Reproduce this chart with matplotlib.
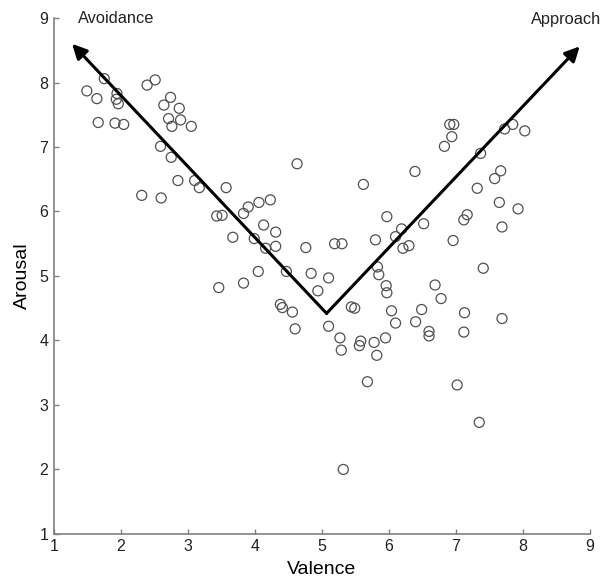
import matplotlib
matplotlib.use("Agg")
import matplotlib.pyplot as plt

plt.rcParams['font.family'] = ['Liberation Sans', 'DejaVu Sans']

valence = [1.49, 1.75, 1.64, 1.94, 1.93, 1.96, 1.66, 1.91, 2.04, 2.39, 2.51, 2.74, 2.64, 2.87,
           2.71, 2.89, 2.76, 3.05, 2.59, 2.75, 4.63, 2.85, 3.10, 3.17, 3.57, 2.31, 2.60, 3.43,
           3.51, 3.83, 3.90, 4.06, 4.23, 3.67, 3.99, 4.13, 4.31, 4.31, 4.16, 4.76, 4.05, 4.47,
           4.84, 3.46, 3.83, 5.10, 4.94, 4.38, 4.41, 4.56, 4.60, 5.10,
           6.91, 6.97, 6.94, 6.83, 7.85, 7.73, 8.03, 7.37, 6.39, 5.62, 7.67, 7.58, 7.32, 7.65,
           7.93, 5.97, 7.17, 7.12, 6.52, 6.19, 6.10, 5.80, 7.69, 6.96, 6.21, 6.30, 5.19, 5.30,
           5.83, 5.85, 7.41, 5.96, 5.97, 6.69, 6.78, 5.44, 5.49, 6.04, 6.49, 7.13, 7.69, 6.10,
           6.40, 6.60, 6.60, 7.12, 5.27, 5.29, 5.58, 5.56, 5.78, 5.95, 5.82, 5.68, 7.02, 7.35,
           5.32]
arousal = [7.87, 8.06, 7.75, 7.83, 7.74, 7.67, 7.38, 7.37, 7.35, 7.96, 8.04, 7.77, 7.65, 7.60,
           7.44, 7.42, 7.32, 7.32, 7.01, 6.84, 6.74, 6.48, 6.48, 6.37, 6.37, 6.25, 6.21, 5.93,
           5.94, 5.97, 6.07, 6.14, 6.18, 5.60, 5.58, 5.79, 5.68, 5.46, 5.43, 5.44, 5.07, 5.07,
           5.04, 4.82, 4.89, 4.97, 4.77, 4.56, 4.51, 4.44, 4.18, 4.22,
           7.35, 7.35, 7.16, 7.01, 7.35, 7.28, 7.25, 6.90, 6.62, 6.42, 6.63, 6.51, 6.36, 6.14,
           6.04, 5.92, 5.95, 5.87, 5.81, 5.73, 5.61, 5.56, 5.76, 5.55, 5.43, 5.47, 5.50, 5.50,
           5.14, 5.02, 5.12, 4.85, 4.74, 4.86, 4.65, 4.52, 4.50, 4.46, 4.48, 4.43, 4.34, 4.27,
           4.29, 4.14, 4.07, 4.13, 4.04, 3.85, 3.99, 3.92, 3.97, 4.04, 3.77, 3.36, 3.31, 2.73,
           2.00]

vertex = (5.07, 4.42)
avoid_tip = (1.27, 8.60)
approach_tip = (8.85, 8.56)
ticks = [1, 2, 3, 4, 5, 6, 7, 8, 9]

fig = plt.figure(figsize=(6.03, 5.81), dpi=100)
ax = fig.add_axes([0.0896, 0.081, 0.8884, 0.888])

ax.scatter(valence, arousal, s=52, facecolors='none', edgecolors='#505050', linewidths=0.9, zorder=2)

for tip in (avoid_tip, approach_tip):
    ax.annotate('', xy=tip, xytext=vertex,
                arrowprops=dict(arrowstyle='-|>', color='black', lw=2.2, mutation_scale=22,
                                shrinkA=0, shrinkB=0), zorder=3)

ax.text(1.36, 9.0, 'Avoidance', fontsize=11.8, ha='left', va='center', color='#222222')
ax.text(9.17, 8.97, 'Approach', fontsize=11.8, ha='right', va='center', color='#222222')

ax.set_xlim(1, 9)
ax.set_ylim(1, 9)
ax.set_xticks(ticks)
ax.set_yticks(ticks)
for s in ('top', 'right'):
    ax.spines[s].set_visible(False)
for s in ('left', 'bottom'):
    ax.spines[s].set_color('#808080')
    ax.spines[s].set_linewidth(1.2)
ax.tick_params(direction='in', length=3.5, color='#808080', labelsize=11.5, width=1,
               labelcolor='#222222', pad=4)
ax.set_xlabel('Valence', fontsize=14, labelpad=5)
ax.set_ylabel('Arousal', fontsize=14, labelpad=6)

fig.savefig('out.png', dpi=100)
